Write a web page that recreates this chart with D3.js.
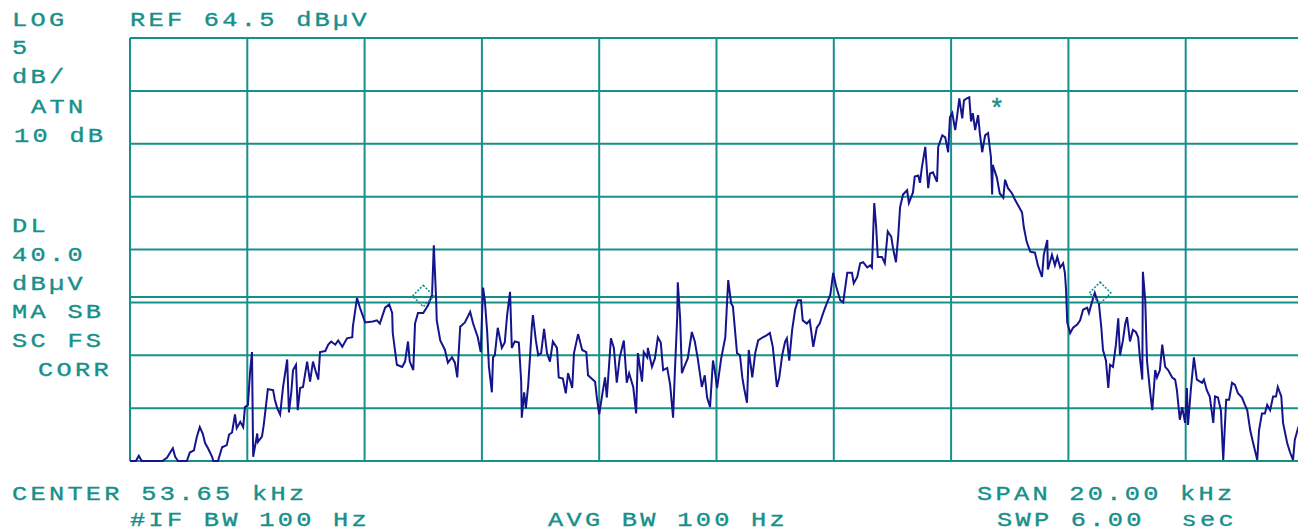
<!DOCTYPE html>
<html>
<head>
<meta charset="utf-8">
<script src="https://cdn.jsdelivr.net/npm/d3@7"></script>
<style>
  body { margin: 0; background: #fff; }
  svg { display: block; }
  text { font-family: "Liberation Mono", "DejaVu Sans Mono", monospace; }
</style>
</head>
<body>
<div id="chart"></div>
<script>
/*------------------ trace data (kHz / dBuV) ------------------*/
var freqKHz = [
  43.65,43.75,43.80,43.85,44.20,44.28,44.38,44.42,44.47,44.62,
  44.67,44.74,44.79,44.84,44.89,44.93,44.98,45.05,45.07,45.15,
  45.22,45.30,45.34,45.39,45.44,45.47,45.53,45.58,45.61,45.66,
  45.70,45.73,45.75,45.82,45.83,45.90,45.93,45.97,46.00,46.09,
  46.12,46.16,46.21,46.26,46.33,46.36,46.40,46.43,46.48,46.51,
  46.55,46.60,46.67,46.72,46.77,46.82,46.86,46.89,46.98,47.03,
  47.08,47.15,47.20,47.27,47.35,47.44,47.45,47.52,47.57,47.66,
  47.79,47.86,47.91,48.00,48.07,48.12,48.13,48.20,48.29,48.34,
  48.39,48.42,48.48,48.51,48.56,48.65,48.73,48.80,48.83,48.87,
  48.88,48.94,49.02,49.07,49.14,49.19,49.23,49.28,49.36,49.45,
  49.50,49.58,49.63,49.67,49.70,49.74,49.77,49.82,49.84,49.87,
  49.92,49.99,50.04,50.08,50.13,50.16,50.21,50.28,50.32,50.33,
  50.37,50.40,50.44,50.47,50.50,50.52,50.57,50.61,50.66,50.71,
  50.76,50.81,50.86,50.93,50.96,51.03,51.08,51.12,51.19,51.22,
  51.29,51.36,51.43,51.46,51.58,51.61,51.65,51.70,51.75,51.78,
  51.85,51.90,51.95,52.00,52.07,52.12,52.16,52.23,52.28,52.31,
  52.38,52.41,52.47,52.48,52.55,52.60,52.65,52.70,52.74,52.81,
  52.86,52.91,52.94,52.98,52.99,53.03,53.06,53.10,53.16,53.23,
  53.28,53.33,53.40,53.45,53.49,53.54,53.59,53.62,53.66,53.73,
  53.80,53.83,53.85,53.90,53.93,53.97,54.00,54.05,54.09,54.12,
  54.17,54.20,54.26,54.31,54.36,54.44,54.51,54.56,54.61,54.68,
  54.72,54.77,54.82,54.85,54.89,54.94,54.99,55.04,55.09,55.12,
  55.19,55.24,55.30,55.36,55.41,55.47,55.53,55.59,55.64,55.69,
  55.76,55.81,55.88,55.96,55.99,56.05,56.10,56.15,56.22,56.27,
  56.30,56.32,56.34,56.37,56.40,56.47,56.52,56.57,56.63,56.66,
  56.71,56.75,56.78,56.83,56.90,56.93,57.00,57.03,57.09,57.12,
  57.15,57.21,57.24,57.26,57.29,57.34,57.41,57.43,57.50,57.55,
  57.60,57.63,57.67,57.72,57.75,57.79,57.84,57.87,57.92,57.96,
  57.99,58.02,58.06,58.11,58.14,58.18,58.23,58.28,58.33,58.35,
  58.36,58.43,58.48,58.54,58.57,58.62,58.69,58.74,58.79,58.86,
  58.89,58.94,59.00,59.08,59.13,59.20,59.23,59.29,59.30,59.37,
  59.42,59.46,59.51,59.56,59.59,59.61,59.63,59.68,59.73,59.80,
  59.85,59.90,59.97,60.00,60.05,60.10,60.14,60.17,60.21,60.24,
  60.29,60.33,60.36,60.41,60.46,60.50,60.53,60.58,60.62,60.65,
  60.70,60.75,60.80,60.84,60.87,60.91,60.92,60.96,60.99,61.04,
  61.08,61.13,61.16,61.21,61.25,61.30,61.35,61.42,61.47,61.50,
  61.55,61.59,61.64,61.67,61.69,61.74,61.79,61.84,61.93,61.96,
  62.01,62.06,62.12,62.15,62.20,62.25,62.29,62.34,62.39,62.44,
  62.49,62.54,62.61,62.66,62.70,62.75,62.80,62.87,62.90,62.95,
  63.00,63.04,63.09,63.14,63.19,63.22,63.28,63.31,63.38,63.43,
  63.48,63.51,63.57,63.65
];

var levelDbuV = [
  24.5,24.5,25.0,24.5,24.5,24.8,25.7,24.9,24.5,24.5,
  25.3,25.5,26.8,27.7,27.1,26.2,25.7,24.9,24.5,24.5,
  25.8,26.0,27.0,27.2,28.9,27.6,28.2,27.7,29.6,29.8,
  33.1,34.8,24.9,27.1,26.3,26.8,27.9,29.8,31.3,31.2,
  30.3,29.5,28.9,31.5,34.1,29.1,31.0,33.1,33.6,29.3,
  31.4,31.5,33.9,32.0,33.9,32.9,32.2,34.8,34.9,35.5,
  35.8,35.5,35.9,35.3,36.1,36.2,37.2,39.9,39.0,37.6,
  37.7,37.8,37.5,39.0,39.3,38.5,36.6,33.6,33.4,33.9,
  35.8,33.9,33.1,37.5,38.5,38.5,39.2,40.2,44.9,39.7,
  37.8,35.9,35.0,33.8,34.3,33.8,32.4,37.2,37.6,38.6,
  37.5,36.2,34.8,40.9,39.7,36.7,33.4,31.0,34.3,34.5,
  37.1,35.2,35.7,38.3,40.5,35.2,35.8,35.7,32.0,28.6,
  31.0,29.5,31.7,34.3,37.1,38.3,35.9,34.5,34.7,37.0,
  34.7,33.9,35.8,35.2,32.4,32.3,30.9,32.8,31.4,34.7,
  36.5,35.0,34.8,32.6,32.0,30.5,28.9,30.7,32.4,30.5,
  36.1,35.2,31.9,34.3,35.9,31.9,32.8,31.5,29.0,34.7,
  32.0,34.8,34.3,35.2,33.4,34.2,36.2,35.7,33.1,33.3,
  31.7,28.6,32.9,38.1,41.4,38.0,32.8,33.4,34.2,36.7,
  35.8,34.2,31.5,32.6,30.5,29.6,34.0,33.1,31.4,34.2,
  36.2,39.5,41.6,39.4,39.1,36.6,34.7,34.5,32.4,31.4,
  30.0,35.0,32.4,34.7,35.9,36.2,36.4,36.6,35.3,31.5,
  32.4,34.5,35.8,36.1,34.0,36.9,38.8,39.7,39.7,37.8,
  37.5,37.8,35.3,37.1,37.5,38.5,39.4,40.2,42.3,41.0,
  39.7,39.5,42.3,42.3,41.3,41.9,43.2,43.3,42.8,43.0,
  42.8,45.9,48.9,46.8,43.8,43.8,43.2,46.2,45.7,44.6,
  43.3,45.9,48.5,49.7,50.1,48.9,49.9,51.4,51.5,50.8,
  52.2,54.2,51.8,50.3,51.7,51.8,50.9,54.2,55.3,55.1,
  53.7,57.0,57.4,55.8,57.0,58.8,56.9,58.6,58.8,58.9,
  56.6,57.4,55.8,57.2,55.5,53.7,55.3,55.5,53.2,49.7,
  52.5,51.3,49.8,49.4,51.1,50.3,49.8,49.2,48.7,48.0,
  46.6,45.2,44.3,44.2,43.0,41.9,44.0,45.4,42.6,44.0,
  43.0,43.8,42.8,43.2,42.3,40.7,37.6,36.6,37.1,37.4,
  37.8,38.8,39.0,38.5,39.5,40.4,39.7,39.4,37.2,35.0,
  34.0,31.4,33.6,33.4,35.5,38.0,34.5,35.9,37.5,38.1,
  35.8,36.9,36.7,36.2,34.2,32.2,42.4,39.7,34.0,31.2,
  29.3,33.1,32.4,33.1,35.5,33.4,33.1,32.4,32.2,31.2,
  28.4,29.6,28.1,31.4,27.9,31.4,34.3,32.2,31.9,32.2,
  31.2,30.6,28.1,30.6,30.5,29.3,24.6,30.3,30.3,31.9,
  31.7,30.9,30.5,29.8,29.3,27.4,26.2,24.6,27.4,29.0,
  29.0,29.8,29.3,30.6,30.6,31.5,30.6,28.1,26.2,25.3,
  24.6,26.5,27.7,28.4
];

// screen settings
var refLevel = 64.5, dbPerDiv = 5, vDivs = 8;
var centerKHz = 53.65, spanKHz = 20, hDivs = 10;
var displayLine = 40.0;

// markers
var diamondFreq = [48.65, 60.19];
var diamondLevel = [40.1, 40.4];
var starFreq = [58.43];
var starLevel = [58.4];

// annotation texts
var topLeftText = "LOG";
var refText = "REF 64.5 dBµV";
var leftBlock1 = ["5", "dB/", "ATN", "10 dB"];
var leftBlock2 = ["DL", "40.0", "dBµV", "MA SB", "SC FS", "CORR"];
var bottomRow1 = ["CENTER 53.65 kHz", "SPAN 20.00 kHz"];
var bottomRow2 = ["#IF BW 100 Hz", "AVG BW 100 Hz", "SWP 6.00  sec"];

/*------------------ drawing ------------------*/
var W = 1298, H = 531;
var teal = "#16908b", navy = "#14148c";
var plot = {left: 130, top: 38, bottom: 461, divW: 117.3};

var svg = d3.select("#chart").append("svg")
    .attr("width", W)
    .attr("height", H)
    .style("background", "#fff");

var startKHz = centerKHz - spanKHz / 2, stopKHz = centerKHz + spanKHz / 2;
var xScale = d3.scaleLinear().domain([startKHz, stopKHz]).range([plot.left, plot.left + plot.divW * hDivs]);
var yScale = d3.scaleLinear().domain([refLevel - dbPerDiv * vDivs, refLevel]).range([plot.bottom, plot.top]);

// graticule
var gridFreqs = d3.range(hDivs + 1).map(i => startKHz + i * spanKHz / hDivs);
var gridLevels = d3.range(vDivs + 1).map(i => refLevel - i * dbPerDiv);

var grid = svg.append("g").attr("stroke", teal).attr("stroke-width", 2).attr("fill", "none");
grid.selectAll("line.v")
    .data(gridFreqs)
    .enter()
    .append("line")
    .attr("class", "v")
    .attr("x1", d => xScale(d)).attr("x2", d => xScale(d))
    .attr("y1", yScale(refLevel)).attr("y2", yScale(refLevel - dbPerDiv * vDivs));
grid.selectAll("line.h")
    .data(gridLevels)
    .enter()
    .append("line")
    .attr("class", "h")
    .attr("x1", xScale(startKHz)).attr("x2", xScale(stopKHz))
    .attr("y1", d => yScale(d)).attr("y2", d => yScale(d));

// display line
grid.append("line")
    .attr("x1", xScale(startKHz)).attr("x2", xScale(stopKHz))
    .attr("y1", yScale(displayLine)).attr("y2", yScale(displayLine));

// trace
var trace = freqKHz.map((f, i) => ({f: f, l: levelDbuV[i]}));
svg.append("path")
    .datum(trace)
    .attr("fill", "none")
    .attr("stroke", navy)
    .attr("stroke-width", 2)
    .attr("stroke-linejoin", "miter")
    .attr("d", d3.line().x(d => xScale(d.f)).y(d => yScale(d.l)));

// markers
var diamonds = diamondFreq.map((f, i) => ({f: f, l: diamondLevel[i]}));
svg.selectAll("path.mk")
    .data(diamonds)
    .enter()
    .append("path")
    .attr("class", "mk")
    .attr("d", d3.symbol(d3.symbolSquare, 230)())
    .attr("transform", d => `translate(${xScale(d.f)},${yScale(d.l)}) rotate(45)`)
    .attr("fill", "none")
    .attr("stroke", teal)
    .attr("stroke-width", 1.6)
    .attr("stroke-dasharray", "2,1.5");

svg.selectAll("text.star")
    .data(starFreq)
    .enter()
    .append("text")
    .attr("class", "star")
    .attr("x", d => xScale(d))
    .attr("y", (d, i) => yScale(starLevel[i]) + 14)
    .attr("text-anchor", "middle")
    .attr("font-size", 26)
    .attr("stroke", teal)
    .attr("stroke-width", 0.5)
    .attr("fill", teal)
    .text("*");

// screen annotations
function label(t, x, y) {
    return svg.append("text")
        .attr("transform", `translate(${x},${y}) scale(1.3,1)`)
        .attr("font-size", 19.5)
        .attr("letter-spacing", "2.5px")
        .attr("fill", teal)
        .attr("stroke", teal)
        .attr("stroke-width", 0.35)
        .style("white-space", "pre")
        .text(t);
}

label(topLeftText, 12, 26);
label(refText, 130, 26);
leftBlock1.forEach((t, i) => label(t, t === "ATN" ? 31 : (t === "10 dB" ? 14 : 12), 54 + i * 29.3));
leftBlock2.forEach((t, i) => label(t, t === "CORR" ? 38 : 12, 232 + i * 28.8));
label(bottomRow1[0], 12, 500);
label(bottomRow1[1], 977, 500);
label(bottomRow2[0], 130, 526);
label(bottomRow2[1], 548, 526);
label(bottomRow2[2], 997, 526);
</script>
</body>
</html>
